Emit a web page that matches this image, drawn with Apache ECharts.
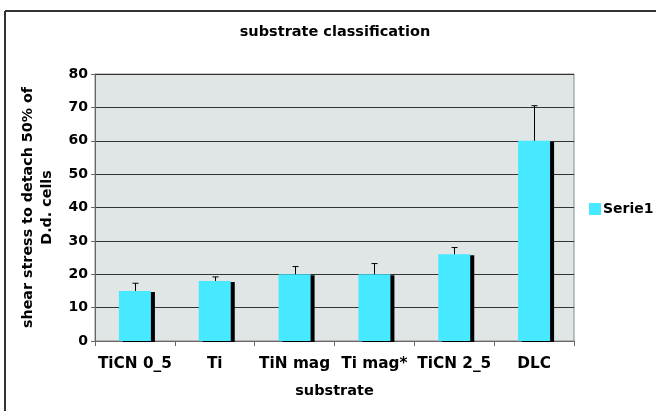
<!DOCTYPE html>
<html>
<head>
<meta charset="utf-8">
<script src="https://cdn.jsdelivr.net/npm/echarts@6/dist/echarts.min.js"></script>
<style>
html,body{margin:0;padding:0;background:#fff;}
#chart{width:656px;height:411px;}
</style>
</head>
<body>
<div id="chart"></div>
<script>
const categories = ['TiCN 0_5', 'Ti', 'TiN mag', 'Ti mag*', 'TiCN 2_5', 'DLC'];
const values = [15, 18, 20, 20, 26, 60];
const errorTops = [17.3, 19.2, 22.3, 23.2, 28, 70.5];
const yTicks = [0, 10, 20, 30, 40, 50, 60, 70, 80];

const font = '"DejaVu Sans", Verdana, sans-serif';
const chart = echarts.init(document.getElementById('chart'));
chart.setOption({
  animation: false,
  backgroundColor: '#ffffff',
  title: {
    text: 'substrate classification',
    left: 330, top: 20, textAlign: 'center',
    textStyle: {fontFamily: font, fontSize: 14.5, fontWeight: 'bold', color: '#000'}
  },
  legend: {
    data: ['Serie1'],
    left: 584, top: 197,
    itemWidth: 12, itemHeight: 12, itemGap: 4,
    icon: 'rect',
    textStyle: {fontFamily: font, fontSize: 14, fontWeight: 'bold', color: '#000', padding: [0, 0, 0, -3]}
  },
  grid: {left: 95, top: 74, right: 82, bottom: 70, show: true, backgroundColor: '#dfe6e5', borderColor: '#888', borderWidth: 1},
  xAxis: {
    type: 'category',
    data: categories,
    name: 'substrate',
    nameLocation: 'middle',
    nameGap: 43,
    nameTextStyle: {fontFamily: font, fontSize: 14.5, fontWeight: 'bold', color: '#000'},
    axisLine: {lineStyle: {color: '#666', width: 1}},
    axisTick: {show: true, length: 5, lineStyle: {color: '#666'}},
    axisLabel: {fontFamily: font, fontSize: 15.3, fontWeight: 'bold', color: '#000', margin: 16, interval: 0},
    splitLine: {show: false}
  },
  yAxis: {
    type: 'value',
    min: yTicks[0], max: yTicks[yTicks.length - 1], interval: 10,
    name: 'shear stress to detach 50% of\nD.d. cells',
    nameLocation: 'middle',
    nameGap: 38,
    nameRotate: 90,
    nameTextStyle: {fontFamily: font, fontSize: 14.3, fontWeight: 'bold', color: '#000', lineHeight: 19},
    axisLine: {show: true, lineStyle: {color: '#666', width: 1}},
    axisTick: {show: true, length: 4, lineStyle: {color: '#666'}},
    axisLabel: {fontFamily: font, fontSize: 14, fontWeight: 'bold', color: '#000', margin: 7},
    splitLine: {show: true, lineStyle: {color: '#333', width: 1}}
  },
  graphic: [
    {type: 'line', shape: {x1: 5, y1: 11, x2: 656, y2: 11}, style: {stroke: '#333', lineWidth: 2}, silent: true},
    {type: 'line', shape: {x1: 5, y1: 11, x2: 5, y2: 411}, style: {stroke: '#333', lineWidth: 2}, silent: true}
  ],
  series: [
    {
      name: 'Serie1',
      type: 'bar',
      data: values,
      barWidth: 32,
      itemStyle: {color: '#46e9ff', shadowColor: '#000', shadowOffsetX: 4, shadowOffsetY: 1, shadowBlur: 0},
      z: 2
    },
    {
      name: 'err',
      type: 'custom',
      data: categories.map((c, i) => [i, values[i], errorTops[i]]),
      renderItem: function (params, api) {
        const base = api.coord([api.value(0), api.value(1)]);
        const top = api.coord([api.value(0), api.value(2)]);
        const x = Math.round(base[0]) + 0.5;
        return {
          type: 'group',
          children: [
            {type: 'line', shape: {x1: x, y1: base[1], x2: x, y2: top[1]}, style: {stroke: '#000', lineWidth: 1}},
            {type: 'line', shape: {x1: x - 3, y1: top[1], x2: x + 3, y2: top[1]}, style: {stroke: '#000', lineWidth: 1}}
          ]
        };
      },
      z: 3
    }
  ]
});
</script>
</body>
</html>
